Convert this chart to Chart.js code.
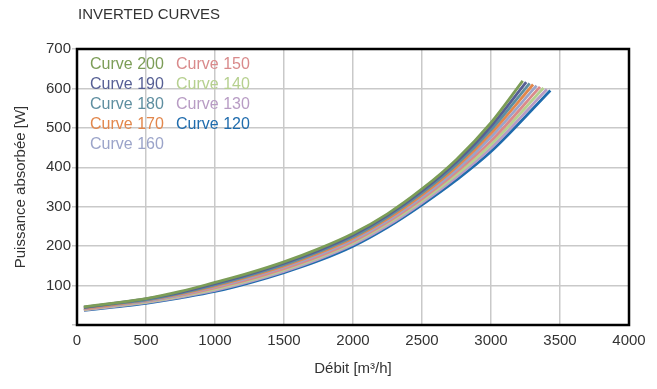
<!DOCTYPE html>
<html>
<head>
<meta charset="utf-8">
<script src="https://cdn.jsdelivr.net/npm/chart.js@4/dist/chart.umd.min.js"></script>
<style>
  html, body { margin: 0; background: #fff; }
  #wrap { width: 657px; height: 389px; position: relative; }
</style>
</head>
<body>
<div id="wrap"><canvas id="chart"></canvas></div>
<script>
const chartTitle = "INVERTED CURVES";
const xTitle = "Débit [m³/h]";
const yTitle = "Puissance absorbée [W]";

const curveLabels = ["Curve 200", "Curve 190", "Curve 180", "Curve 170", "Curve 160",
                     "Curve 150", "Curve 140", "Curve 130", "Curve 120"];
const curveColors = ["#7c9d57", "#565f94", "#5e8ea0", "#e2874c", "#9ba4c9",
                     "#d98a8b", "#b6d08f", "#b89cc4", "#1f6cad"];

// shared flow points (m3/h), then each curve has its own end point
const flowGrid = [50, 250, 500, 750, 1000, 1250, 1500, 1750, 2000, 2250, 2500, 2750, 3000];
const power200 = [46, 55, 67, 85, 108, 132, 160, 193, 232, 282, 345, 420, 513];
const power190 = [45, 54, 66, 83, 105, 129, 157, 189, 228, 278, 340, 414, 504];
const power180 = [44, 53, 64, 81, 102, 126, 153, 186, 224, 274, 335, 407, 495];
const power170 = [43, 51, 63, 79, 99, 123, 150, 182, 220, 269, 330, 401, 486];
const power160 = [42, 50, 61, 77, 97, 120, 147, 178, 216, 265, 325, 394, 477];
const power150 = [40, 49, 60, 75, 94, 116, 143, 174, 212, 261, 320, 388, 467];
const power140 = [39, 48, 58, 73, 91, 113, 140, 171, 208, 257, 315, 381, 458];
const power130 = [38, 46, 57, 71, 88, 110, 136, 167, 204, 252, 310, 375, 449];
const power120 = [37, 45, 55, 69, 85, 107, 133, 163, 200, 248, 305, 368, 440];
const flowEnd = [3230, 3255, 3280, 3305, 3330, 3355, 3380, 3405, 3430];
const powerEnd = [619, 616, 613, 610, 607, 604, 601, 598, 595];

const powerSeries = [power200, power190, power180, power170, power160,
                     power150, power140, power130, power120];

const FONT = "'Liberation Sans', Arial, Helvetica, sans-serif";
const TEXT = "#333333";

const datasets = powerSeries.map((vals, i) => ({
  label: curveLabels[i],
  data: flowGrid.map((x, j) => ({ x: x, y: vals[j] })).concat([{ x: flowEnd[i], y: powerEnd[i] }]),
  borderColor: curveColors[i],
  backgroundColor: curveColors[i],
  borderWidth: 2.8,
  pointRadius: 0,
  cubicInterpolationMode: "monotone",
  fill: false
}));

// title, legend text and the black frame
const decor = {
  id: "decor",
  afterDraw(chart) {
    const { ctx, chartArea } = chart;
    ctx.save();
    ctx.fillStyle = TEXT;
    ctx.font = "15px " + FONT;
    ctx.textBaseline = "middle";
    ctx.textAlign = "left";
    ctx.fillText(chartTitle, chartArea.left + 1, 15);

    ctx.font = "16px " + FONT;
    chart.data.datasets.forEach((ds, i) => {
      const col = i < 5 ? 0 : 1;
      const row = i < 5 ? i : i - 5;
      ctx.fillStyle = ds.borderColor;
      ctx.fillText(ds.label, chartArea.left + 13 + col * 86, chartArea.top + 16 + row * 19.8);
    });

    ctx.strokeStyle = "#000";
    ctx.lineWidth = 2.5;
    ctx.strokeRect(chartArea.left, chartArea.top, chartArea.right - chartArea.left, chartArea.bottom - chartArea.top);
    ctx.restore();
  }
};

new Chart(document.getElementById("chart"), {
  type: "line",
  data: { datasets },
  options: {
    responsive: true,
    maintainAspectRatio: false,
    animation: false,
    layout: { padding: { top: 49, right: 28, left: 0, bottom: 0 } },
    plugins: { legend: { display: false }, tooltip: { enabled: false } },
    scales: {
      x: {
        type: "linear",
        min: 0,
        max: 4000,
        ticks: {
          stepSize: 500,
          color: TEXT,
          font: { family: FONT, size: 15 },
          padding: 7,
          maxRotation: 0,
          callback: v => String(v)
        },
        grid: { color: "#c9c9c9", lineWidth: 1.5, drawTicks: false },
        border: { display: false },
        title: { display: true, text: xTitle, color: TEXT, font: { family: FONT, size: 15 }, padding: { top: 0, bottom: 11 } },
        afterFit(scale) { scale.height = 64; }
      },
      y: {
        min: 0,
        max: 700,
        ticks: {
          stepSize: 100,
          color: TEXT,
          font: { family: FONT, size: 15 },
          padding: 1,
          callback: v => (v === 0 ? "" : String(v))
        },
        grid: { color: "#c9c9c9", lineWidth: 1.5, tickLength: 5 },
        border: { display: false },
        title: { display: true, text: yTitle, color: TEXT, font: { family: FONT, size: 15 }, padding: { top: 12, bottom: 0 } },
        afterFit(scale) { scale.width = 77; }
      }
    }
  },
  plugins: [decor]
});
</script>
</body>
</html>
